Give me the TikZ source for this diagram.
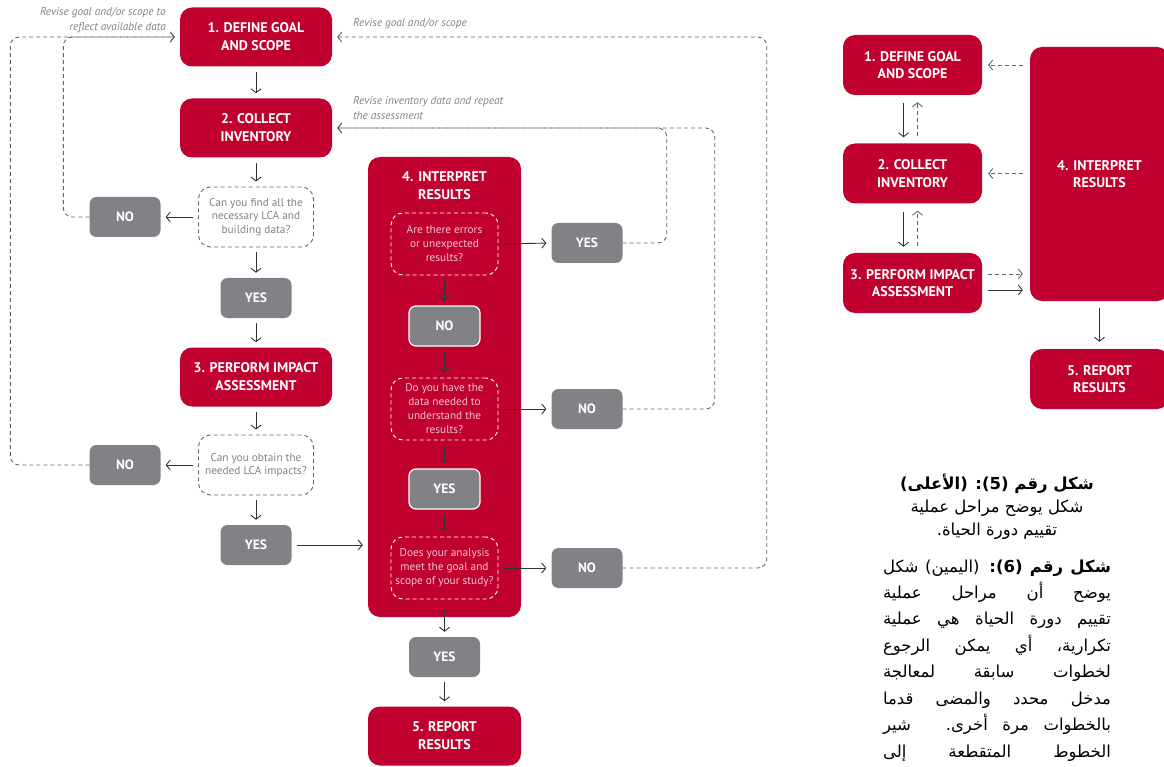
\documentclass[tikz,border=0pt]{standalone}
\usepackage{fontspec}
\setmainfont{PT Sans}
\newfontfamily\arabicfont[Script=Arabic]{DejaVu Sans}
\TeXXeTstate=1
\usetikzlibrary{calc,positioning,arrows,arrows.meta,shapes}

\definecolor{lcaRed}{RGB}{192,0,46}
\definecolor{lcaGray}{RGB}{128,130,133}
\definecolor{lcaDash}{RGB}{100,101,105}
\definecolor{lcaPink}{RGB}{246,196,208}

\tikzstyle{stageBox} = [rectangle, rounded corners=12pt, fill=lcaRed, text=white, align=center, inner sep=0pt, minimum width=152pt, minimum height=59pt, font=\bfseries\fontsize{14}{18}\selectfont]
\tikzstyle{stageTitle} = [align=center, text=white, font=\bfseries\fontsize{14}{18}\selectfont]
\tikzstyle{smallStage} = [stageBox, minimum width=139pt, minimum height=60pt, font=\bfseries\fontsize{14}{17.5}\selectfont]
\tikzstyle{answerBox} = [rectangle, rounded corners=7pt, fill=lcaGray, text=white, inner sep=0pt, minimum width=71pt, minimum height=40pt, font=\bfseries\fontsize{13.5}{15}\selectfont]
\tikzstyle{answerBoxInner} = [answerBox, draw=white, line width=1.2pt]
\tikzstyle{questionBox} = [rectangle, rounded corners=12pt, draw=lcaDash, line width=0.9pt, dash pattern=on 4pt off 3pt, text=lcaGray, align=center, inner sep=0pt, minimum width=115pt, minimum height=60pt, font=\fontsize{11.3}{13.5}\selectfont]
\tikzstyle{questionBoxRed} = [questionBox, draw=white, text=lcaPink, minimum width=107pt, minimum height=62pt, font=\fontsize{11.3}{14}\selectfont]
\tikzstyle{flowArrow} = [draw=black!80, line width=0.9pt, shorten >=5pt, shorten <=5pt, -{Straight Barb[length=4pt,width=10pt]}]
\tikzstyle{reviseArrow} = [draw=lcaDash, line width=0.9pt, dash pattern=on 4pt off 3pt, rounded corners=9pt, shorten >=5pt, -{Straight Barb[length=4pt,width=10pt]}]
\tikzstyle{noteText} = [text=lcaGray, font=\itshape\fontsize{11.3}{15}\selectfont, inner sep=0pt]
\tikzstyle{captionLine} = [inner sep=0pt, anchor=base, font=\arabicfont\fontsize{16.5}{18}\selectfont]

\newcommand{\arabLine}[1]{\hbox to 228pt{\beginR #1\endR}}

\begin{document}
\begin{tikzpicture}[x=1pt, y=-1pt]
  \useasboundingbox (0,0) rectangle (1164,767);

  % left chart: the full procedure
  \node[stageBox] (goal) at (256,37) {1. DEFINE GOAL\\AND SCOPE};
  \node[stageBox] (inventory) at (256,128) {2. COLLECT\\INVENTORY};
  \node[questionBox] (askData) at (256,217) {Can you find all the\\necessary LCA and\\building data?};
  \node[answerBox] (noData) at (125,217) {NO};
  \node[answerBox] (yesData) at (256,298) {YES};
  \node[stageBox] (impact) at (256,377) {3. PERFORM IMPACT\\ASSESSMENT};
  \node[questionBox] (askImpact) at (256,465) {Can you obtain the\\needed LCA impacts?};
  \node[answerBox] (noImpact) at (125,465) {NO};
  \node[answerBox] (yesImpact) at (256,545) {YES};

  \node[stageBox, minimum width=153pt, minimum height=460pt] (interpret) at (444.5,387) {};
  \node[stageTitle] (interpretTitle) at (444.5,186) {4. INTERPRET\\RESULTS};
  \node[questionBoxRed] (askErrors) at (444.5,244) {Are there errors\\or unexpected\\results?};
  \node[answerBox] (yesErrors) at (587,243) {YES};
  \node[answerBoxInner] (noErrors) at (444.5,326) {NO};
  \node[questionBoxRed] (askUnderstand) at (444.5,409) {Do you have the\\data needed to\\understand the\\results?};
  \node[answerBox] (noUnderstand) at (587,409) {NO};
  \node[answerBoxInner] (yesUnderstand) at (444.5,489) {YES};
  \node[questionBoxRed] (askMeet) at (444.5,568) {Does your analysis\\meet the goal and\\scope of your study?};
  \node[answerBox] (noMeet) at (587,568) {NO};
  \node[answerBox] (yesMeet) at (444.5,657) {YES};
  \node[stageBox, minimum width=153pt] (report) at (444.5,736) {5. REPORT\\RESULTS};

  \draw[flowArrow] (goal.south) -- (inventory.north);
  \draw[flowArrow] (inventory.south) -- (askData.north);
  \draw[flowArrow] (askData.west) -- (noData.east);
  \draw[flowArrow] (askData.south) -- (yesData.north);
  \draw[flowArrow] (yesData.south) -- (impact.north);
  \draw[flowArrow] (impact.south) -- (askImpact.north);
  \draw[flowArrow] (askImpact.west) -- (noImpact.east);
  \draw[flowArrow] (askImpact.south) -- (yesImpact.north);
  \draw[flowArrow] (yesImpact.east) -- (yesImpact.east -| interpret.west);
  \draw[flowArrow] (askErrors.east) -- (yesErrors.west);
  \draw[flowArrow] (askErrors.south) -- (noErrors.north);
  \draw[flowArrow] (noErrors.south) -- (askUnderstand.north);
  \draw[flowArrow] (askUnderstand.east) -- (noUnderstand.west);
  \draw[flowArrow] (askUnderstand.south) -- (yesUnderstand.north);
  \draw[flowArrow] (yesUnderstand.south) -- (askMeet.north);
  \draw[flowArrow] (askMeet.east) -- (noMeet.west);
  \draw[flowArrow] (askMeet.south) ++(0,5) -- (yesMeet.north);
  \draw[flowArrow] (yesMeet.south) -- (report.north);

  % dashed loops back
  \draw[reviseArrow] (noData.west) -- ++(-26,0) |- (goal.west);
  \draw[reviseArrow] (noImpact.west) -- ++(-79,0) |- (goal.west);
  \draw[reviseArrow] (yesErrors.east) -- ++(44,0) |- (inventory.east);
  \draw[reviseArrow] (noUnderstand.east) -- ++(92,0) |- (inventory.east);
  \draw[reviseArrow] (noMeet.east) -- ++(144,0) |- (goal.east);

  \node[noteText, anchor=east, align=right] (noteData) at (166,20) {Revise goal and/or scope to\\reflect available data};
  \node[noteText, anchor=west] (noteGoal) at (353,24) {Revise goal and/or scope};
  \node[noteText, anchor=west, align=left] (noteInventory) at (353,108) {Revise inventory data and repeat\\the assessment};

  % right chart: the short version
  \node[smallStage] (goalR) at (912.5,65) {1. DEFINE GOAL\\AND SCOPE};
  \node[smallStage] (inventoryR) at (912.5,173.5) {2. COLLECT\\INVENTORY};
  \node[smallStage] (impactR) at (912.5,283) {3. PERFORM IMPACT\\ASSESSMENT};
  \node[smallStage, minimum height=254pt] (interpretR) at (1099.5,174) {4. INTERPRET\\RESULTS};
  \node[smallStage] (reportR) at (1099.5,379) {5. REPORT\\RESULTS};

  \draw[flowArrow, shorten <=8pt, shorten >=6pt] ([xshift=-9pt]goalR.south) -- ([xshift=-9pt]inventoryR.north);
  \draw[reviseArrow, shorten <=7pt, shorten >=7pt] ([xshift=5pt]inventoryR.north) -- ([xshift=5pt]goalR.south);
  \draw[flowArrow, shorten <=8pt, shorten >=6pt] ([xshift=-9pt]inventoryR.south) -- ([xshift=-9pt]impactR.north);
  \draw[reviseArrow, shorten <=7pt, shorten >=7pt] ([xshift=5pt]impactR.north) -- ([xshift=5pt]inventoryR.south);
  \draw[reviseArrow, shorten <=7pt, shorten >=6pt] (interpretR.west |- goalR.east) -- (goalR.east);
  \draw[reviseArrow, shorten <=7pt, shorten >=6pt] (interpretR.west |- inventoryR.east) -- (inventoryR.east);
  \draw[reviseArrow, shorten <=6pt, shorten >=7pt] ([yshift=9pt]impactR.east) -- ([yshift=9pt]impactR.east -| interpretR.west);
  \draw[flowArrow, shorten <=6pt, shorten >=7pt] ([yshift=-7pt]impactR.east) -- ([yshift=-7pt]impactR.east -| interpretR.west);
  \draw[flowArrow, shorten <=7pt, shorten >=7pt] (interpretR.south) -- (reportR.north);

  % caption
  \node[captionLine] (cap1) at (997,489) {\bfseries\beginR شكل رقم (5): (الأعلى)\endR};
  \node[captionLine] (cap2) at (997,512) {\beginR شكل يوضح مراحل عملية\endR};
  \node[captionLine] (cap3) at (997,535) {\beginR تقييم دورة الحياة.\endR};
  \node[captionLine] (cap4) at (997,572) {\arabLine{{\bfseries شكل رقم (6):} (اليمين) شكل}};
  \node[captionLine] (cap5) at (997,598) {\arabLine{يوضح أن مراحل عملية}};
  \node[captionLine] (cap6) at (997,624) {\arabLine{تقييم دورة الحياة هي عملية}};
  \node[captionLine] (cap7) at (997,651) {\arabLine{تكرارية، أي يمكن الرجوع}};
  \node[captionLine] (cap8) at (997,677) {\arabLine{لخطوات سابقة لمعالجة}};
  \node[captionLine] (cap9) at (997,704) {\arabLine{مدخل محدد والمضى قدما}};
  \node[captionLine] (cap10) at (997,730) {\arabLine{بالخطوات مرة أخرى. شير}};
  \node[captionLine] (cap11) at (997,757) {\arabLine{الخطوط المتقطعة إلى}};
\end{tikzpicture}
\end{document}
